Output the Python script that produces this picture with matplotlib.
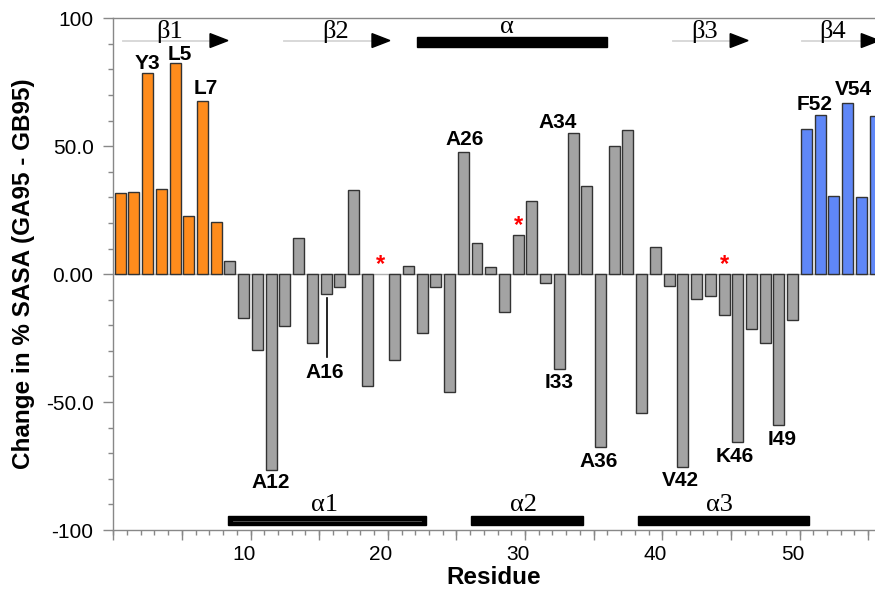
import numpy as np
import matplotlib
matplotlib.use("Agg")
import matplotlib.pyplot as plt
from matplotlib.patches import Polygon, Rectangle

plt.rcParams['font.family'] = ['Liberation Sans', 'DejaVu Sans']

# ---------------- data ----------------
residues = list(range(1, 57))
values = [31.6, 32.3, 78.5, 33.3, 82.4, 22.8, 67.8, 20.5, 5.3, -17.1,
          -29.6, -76.4, -20.1, 14.2, -26.8, -7.8, -5.2, 32.9, -43.9, np.nan,
          -33.7, 3.2, -22.9, -5.2, -46.1, 47.6, 12.1, 2.7, -14.8, 15.2,
          28.4, -3.3, -37.1, 55.2, 34.4, -67.5, 50.0, 56.2, -54.4, 10.8,
          -4.8, -75.5, -9.9, -8.5, -15.9, -65.8, -21.5, -26.8, -58.9, -18.0,
          56.8, 62.2, 30.5, 67.0, 30.2, 61.7]
orange_res = list(range(1, 9))
blue_res = list(range(51, 57))

# residue labels: (text, x, y)
label_text = ["Y3", "L5", "L7", "A26", "A34", "F52", "V54",
              "A12", "A16", "I33", "A36", "V42", "K46", "I49"]
label_x = [2.95, 5.35, 7.25, 26.1, 32.85, 51.6, 54.4,
           11.97, 15.9, 32.96, 35.9, 41.85, 45.75, 49.2]
label_y = [82.5, 86.0, 72.4, 52.8, 59.1, 66.5, 72.2,
           -81.3, -38.4, -42.5, -73.2, -80.7, -71.4, -64.6]

# asterisks
star_x = [20, 30, 45]
star_y = [5.2, 20.5, 5.2]

# secondary structure
strand_names = ["β1", "β2", "β3", "β4"]
strand_start = [1.2, 12.95, 41.3, 50.7]
strand_end = [8.85, 20.65, 46.75, 56.3]
strand_label_x = [4.57, 16.7, 43.55, 52.9]

top_helix_name = ["α"]
top_helix_start = [22.6]
top_helix_end = [36.5]
top_helix_label_x = [29.2]

bot_helix_names = ["α1", "α2", "α3"]
bot_helix_start = [8.83, 26.55, 38.7]
bot_helix_end = [23.3, 34.73, 51.2]
bot_helix_label_x = [15.9, 30.4, 44.7]

# ---------------- figure ----------------
W, H = 875, 593
fig = plt.figure(figsize=(W / 100, H / 100), dpi=100)
ax = fig.add_axes([113.3 / W, (H - 530) / H, (W - 113.3) / W, (530 - 18.3) / H])

orange = "#FF8C1C"
gray = "#A3A3A3"
blue = "#5F87F7"
colors = [orange if r in orange_res else (blue if r in blue_res else gray) for r in residues]

ax.axhline(0, color="#B0B0B0", lw=1.0, zorder=1)
ax.bar(residues, values, width=0.8, color=colors, edgecolor="#333333", linewidth=1.0, zorder=2)

ax.set_xlim(0.5, 56.0)
ax.set_ylim(-100, 100)

# axes styling
spine_col = "#888888"
for s in ["left", "top", "bottom"]:
    ax.spines[s].set_color(spine_col)
    ax.spines[s].set_linewidth(1.0)
ax.spines["right"].set_visible(False)

ax.set_yticks([-100, -50, 0, 50, 100])
ax.set_yticklabels(["-100", "-50.0", "0.00", "50.0", "100"])
ax.set_yticks(np.arange(-100, 101, 10), minor=True)
ax.tick_params(axis="y", which="major", length=7.2, width=1, color=spine_col,
               labelsize=15, pad=7)
ax.tick_params(axis="y", which="minor", length=3.6, width=1, color=spine_col)

ax.set_xticks([10, 20, 30, 40, 50])
ax.set_xticks(np.arange(0.5, 56.1, 1.0), minor=True)
ax.tick_params(axis="x", which="major", length=0, labelsize=15, pad=11)
ax.tick_params(axis="x", which="minor", length=3.6, width=1, color=spine_col)

sec = ax.secondary_xaxis("bottom")
sec.set_xticks(np.arange(0.5, 56.1, 5.0))
sec.set_xticklabels([])
sec.tick_params(axis="x", length=7.2, width=1, color=spine_col)
sec.spines["bottom"].set_visible(False)

ax.set_xlabel("Residue", fontsize=17.5, fontweight="bold", labelpad=1)
ax.set_ylabel("Change in % SASA (GA95 - GB95)", fontsize=17.5, fontweight="bold", labelpad=8)

# residue labels
for t, x, y in zip(label_text, label_x, label_y):
    ax.text(x, y, t, ha="center", va="center", fontsize=15, fontweight="bold", zorder=5)

# A16 leader line
ax.plot([16.04, 16.04], [-9.4, -32.2], color="black", lw=1.2, zorder=5)

# asterisks
for x, y in zip(star_x, star_y):
    ax.text(x, y - 1.5, "*", color="red", ha="center", va="center", fontsize=17,
            fontweight="bold", zorder=5)

serif = ["Liberation Serif", "DejaVu Serif"]
# beta strands on top
for name, s, e, lx in zip(strand_names, strand_start, strand_end, strand_label_x):
    head_len = 1.3
    ax.plot([s, e - head_len], [91.3, 91.3], color="#D5D5D5", lw=1.3, zorder=3, clip_on=False)
    tri = Polygon([[e - head_len, 94.0], [e - head_len, 88.6], [e, 91.3]], closed=True,
                  facecolor="black", edgecolor="black", zorder=4, clip_on=True)
    ax.add_patch(tri)
    ax.text(lx, 92.4, name, ha="center", va="baseline", fontsize=19, family=serif, zorder=5)

# top helix
for name, s, e, lx in zip(top_helix_name, top_helix_start, top_helix_end, top_helix_label_x):
    ax.add_patch(Rectangle((s, 88.6), e - s, 4.0, facecolor="black", edgecolor="black", zorder=4))
    ax.text(lx, 94.1, name, ha="center", va="baseline", fontsize=19, family=serif, zorder=5)

# bottom helices
for i, (name, s, e, lx) in enumerate(zip(bot_helix_names, bot_helix_start, bot_helix_end, bot_helix_label_x)):
    ax.add_patch(Rectangle((s, -98.0), e - s, 3.3, facecolor="black", edgecolor="black", zorder=4))
    if i == 0:
        ax.plot([s + 0.4, e - 0.4], [-96.35, -96.35], color="#5A5A5A", lw=0.6, zorder=5)
    ax.text(lx, -92.7, name, ha="center", va="baseline", fontsize=19, family=serif, zorder=5)

fig.savefig("out.png", dpi=100)
